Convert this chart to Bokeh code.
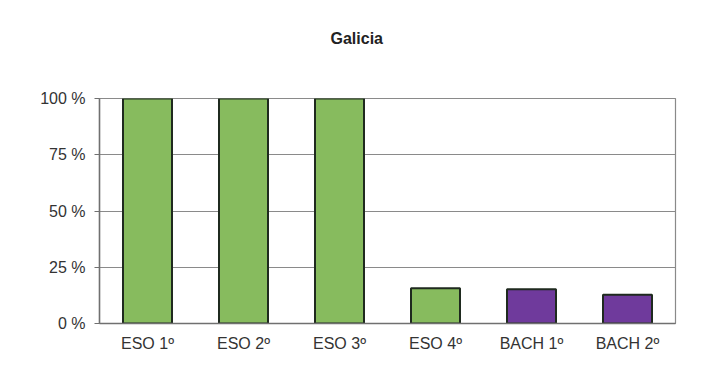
from bokeh.plotting import figure
from bokeh.models import ColumnDataSource, FixedTicker, FactorRange, Range1d, Title
from bokeh.embed import file_html
from bokeh.resources import INLINE

categories = ["ESO 1º", "ESO 2º", "ESO 3º", "ESO 4º", "BACH 1º", "BACH 2º"]
values = [100, 100, 100, 15.7, 15.2, 12.8]
colors = ["#87bb5e", "#87bb5e", "#87bb5e", "#87bb5e", "#6f3a9c", "#6f3a9c"]
y_ticks = [0, 25, 50, 75, 100]
y_tick_labels = ["0 %", "25 %", "50 %", "75 %", "100 %"]
title_text = "Galicia"

src = ColumnDataSource(dict(cat=categories, val=values, col=colors))

p = figure(x_range=FactorRange(*categories, range_padding=0), y_range=Range1d(0, 100),
           width=693, height=382, frame_width=576, frame_height=225,
           min_border_left=99, min_border_right=18, min_border_top=98, min_border_bottom=59,
           output_backend="svg", toolbar_location=None, background_fill_color="white",
           border_fill_color="white")

p.vbar(x="cat", top="val", width=0.51, source=src, fill_color="col",
       line_color="#1f2a1f", line_width=2)

# spacer (nearest the frame) pushes the real title upward
p.add_layout(Title(text=" ", standoff=44, text_font_size="1px"), "above")
p.add_layout(Title(text=title_text, align="left", offset=231, standoff=10,
                   text_font="Liberation Sans", text_font_size="16px",
                   text_font_style="bold", text_color="#222222"), "above")

p.yaxis.ticker = FixedTicker(ticks=y_ticks)
p.yaxis.major_label_overrides = {t: l for t, l in zip(y_ticks, y_tick_labels)}
for ax in (p.xaxis[0], p.yaxis[0]):
    ax.axis_line_color = "#707070"
    ax.axis_line_width = 1.5
    ax.major_label_text_font = "Liberation Sans"
    ax.major_label_text_font_size = "16px"
    ax.major_label_text_color = "#333333"
    ax.minor_tick_line_color = None
p.yaxis.major_tick_line_color = "#707070"
p.yaxis.major_tick_in = 0
p.yaxis.major_tick_out = 5
p.yaxis.major_label_standoff = 9
p.xaxis.major_tick_line_color = None
p.xaxis.major_label_standoff = 5

p.xgrid.grid_line_color = None
p.ygrid.grid_line_color = "#8a8a8a"
p.ygrid.grid_line_width = 1
p.outline_line_color = "#8a8a8a"
p.outline_line_width = 1.2

open("out.html", "w").write(file_html(p, INLINE))
